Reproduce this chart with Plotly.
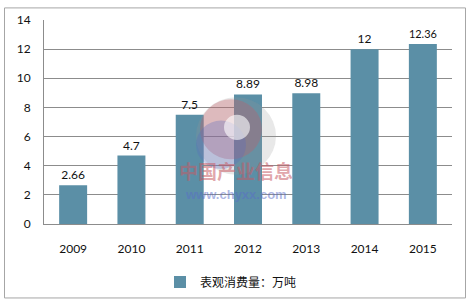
import plotly.graph_objects as go

years = ["2009", "2010", "2011", "2012", "2013", "2014", "2015"]
values = [2.66, 4.7, 7.5, 8.89, 8.98, 12, 12.36]
labels = ["2.66", "4.7", "7.5", "8.89", "8.98", "12", "12.36"]
series_name = "表观消费量：万吨"

W, H = 470, 308
L, R, T, B = 44, 18, 16, 81
pw, ph = W - L - R, H - T - B

def px_x(x):
    return (x - L) / pw

def px_y(y):
    return (H - B - y) / ph

font_family = "Lato, 'Noto Sans CJK SC', sans-serif"

fig = go.Figure()
fig.add_trace(go.Bar(
    x=years, y=values, name=series_name,
    marker=dict(color="#5B8FA6", line=dict(width=0)),
    text=labels, textposition="outside", cliponaxis=False,
    textfont=dict(size=12, color="#111111", family=font_family),
    width=0.48,
))

shapes = [
    # outer border
    dict(type="rect", xref="paper", yref="paper",
         x0=px_x(4.5), x1=px_x(465.5), y0=px_y(303.5), y1=px_y(3.5),
         line=dict(color="#A6A6A6", width=1), fillcolor="rgba(0,0,0,0)", layer="below"),
    # watermark logo ring pieces
    dict(type="circle", xref="paper", yref="paper",
         x0=px_x(196), x1=px_x(276), y0=px_y(176), y1=px_y(96),
         line=dict(width=0), fillcolor="rgba(150,150,150,0.22)", layer="above"),
    dict(type="circle", xref="paper", yref="paper",
         x0=px_x(200), x1=px_x(262), y0=px_y(160), y1=px_y(98),
         line=dict(width=0), fillcolor="rgba(200,90,100,0.32)", layer="above"),
    dict(type="circle", xref="paper", yref="paper",
         x0=px_x(196), x1=px_x(246), y0=px_y(170), y1=px_y(120),
         line=dict(width=0), fillcolor="rgba(90,110,190,0.32)", layer="above"),
    dict(type="circle", xref="paper", yref="paper",
         x0=px_x(224), x1=px_x(250), y0=px_y(140), y1=px_y(114),
         line=dict(width=0), fillcolor="rgba(255,255,255,0.6)", layer="above"),
]

annotations = [
    dict(text="<b>中国产业信息</b>", xref="paper", yref="paper",
         x=px_x(236), y=px_y(188), showarrow=False,
         font=dict(size=19, color="rgba(200,90,100,0.55)", family="'Noto Sans CJK SC', sans-serif")),
    dict(text="<b>www.chyxx.com</b>", xref="paper", yref="paper",
         x=px_x(236), y=px_y(206), showarrow=False,
         font=dict(size=13, color="rgba(90,110,200,0.5)", family="'Liberation Sans', Arial, sans-serif")),
]

fig.update_layout(
    width=W, height=H,
    margin=dict(l=L, r=R, t=T, b=B),
    paper_bgcolor="white", plot_bgcolor="white",
    font=dict(family=font_family, size=12, color="#111111"),
    showlegend=True,
    legend=dict(orientation="h", x=px_x(231), xanchor="center", xref="paper",
                y=px_y(287), yanchor="middle", yref="paper",
                font=dict(size=12, family=font_family), bgcolor="rgba(0,0,0,0)"),
    shapes=shapes,
    annotations=annotations,
)
fig.update_xaxes(showline=True, linecolor="#8C8C8C", linewidth=1, ticks="",
                 showgrid=False, ticklabelstandoff=14,
                 tickfont=dict(size=12, color="#111111"))
fig.update_yaxes(range=[0, 14], dtick=2, showgrid=True, gridcolor="#8C8C8C", gridwidth=1,
                 showline=True, linecolor="#8C8C8C", linewidth=1, ticks="",
                 zeroline=False, ticklabelstandoff=10,
                 tickfont=dict(size=12, color="#111111"))

fig.write_html("out.html")
